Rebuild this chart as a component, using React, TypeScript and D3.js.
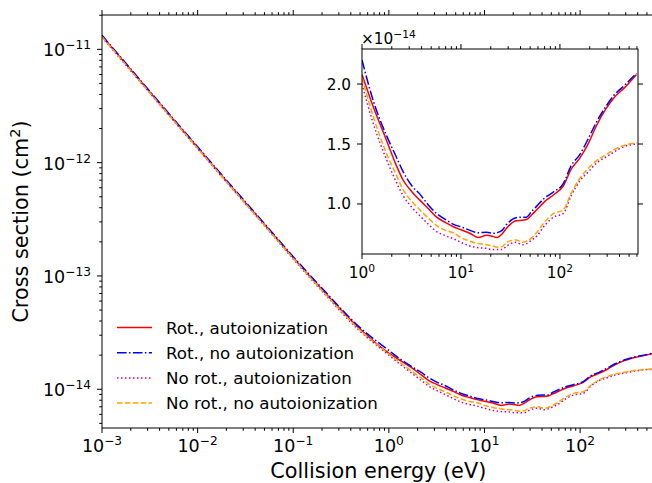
import React from "react";
import * as d3 from "d3";

// Collision energy (eV)
const energy = [0.001, 0.002, 0.005, 0.01, 0.02, 0.05, 0.1, 0.2, 0.5, 1.0, 1.3, 1.77, 2.2, 2.6, 3.2, 3.86, 4.7, 5.68, 7, 8.4, 10, 12.3, 15, 18.1, 21, 23, 26, 29, 36, 42, 46, 52, 58, 70, 86, 108, 130, 158, 195, 233, 290, 347, 450, 594];

// Cross sections in units of 1e-14 cm^2
const rotAuto = [1310, 660, 268, 136, 69, 28.5, 14.5, 7.6, 3.4, 2.08, 1.81, 1.53, 1.33, 1.2, 1.1, 1.03, 0.96, 0.89, 0.845, 0.81, 0.785, 0.756, 0.72, 0.74, 0.73, 0.72, 0.75, 0.8, 0.86, 0.865, 0.87, 0.91, 0.95, 1.02, 1.075, 1.15, 1.29, 1.38, 1.51, 1.65, 1.79, 1.88, 1.97, 2.08];
const rotNoAuto = [1330, 670, 272, 138, 70, 29, 14.8, 7.8, 3.5, 2.2, 1.86, 1.57, 1.4, 1.27, 1.15, 1.08, 0.99, 0.92, 0.87, 0.83, 0.81, 0.78, 0.76, 0.765, 0.755, 0.76, 0.78, 0.83, 0.885, 0.89, 0.89, 0.94, 0.98, 1.05, 1.1, 1.17, 1.32, 1.41, 1.55, 1.68, 1.81, 1.9, 1.99, 2.09];
const noRotAuto = [1280, 645, 262, 133, 67.5, 27.8, 14.1, 7.35, 3.25, 2.0, 1.67, 1.37, 1.19, 1.07, 0.97, 0.9, 0.83, 0.77, 0.735, 0.71, 0.68, 0.65, 0.635, 0.63, 0.62, 0.62, 0.62, 0.65, 0.68, 0.66, 0.67, 0.7, 0.73, 0.82, 0.89, 0.92, 1.07, 1.19, 1.27, 1.34, 1.39, 1.43, 1.48, 1.5];
const noRotNoAuto = [1290, 650, 264, 134, 68, 28, 14.3, 7.45, 3.32, 2.05, 1.73, 1.42, 1.25, 1.12, 1.02, 0.95, 0.88, 0.82, 0.78, 0.76, 0.72, 0.69, 0.67, 0.66, 0.65, 0.64, 0.645, 0.68, 0.7, 0.68, 0.69, 0.72, 0.76, 0.85, 0.92, 0.95, 1.09, 1.21, 1.3, 1.36, 1.41, 1.45, 1.49, 1.51];

const seriesNames = ["Rot., autoionization", "Rot., no autoionization", "No rot., autoionization", "No rot., no autoionization"];
const seriesValues = [rotAuto, rotNoAuto, noRotAuto, noRotNoAuto];
const seriesColors = ["#ff0000", "#0000ff", "#bf00bf", "#ffa500"];
const seriesDash = ["none", "9.6,2.4,1.5,2.4", "1.5,2.5", "5.5,2.4"];

const mainXTicks = [-3, -2, -1, 0, 1, 2];
const mainYTicks = [-11, -12, -13, -14];
const insetXTicks = [0, 1, 2];
const insetYTicks = [1.0, 1.5, 2.0];

const FONT = "DejaVu Sans";

export default function App() {
  const W = 652, H = 483;
  // main axes
  const mL = 102, mR = 654.5, mT = 15, mB = 428;
  const x = d3.scaleLog().domain([1e-3, 600]).range([mL, mR]);
  const y = d3.scaleLog().domain([4.55e-15, 2.01e-11]).range([mB, mT]);
  // inset
  const iL = 362, iR = 638, iT = 49, iB = 254;
  const xi = d3.scaleLog().domain([1, 615]).range([iL, iR]);
  const yi = d3.scaleLinear().domain([0.583, 2.292]).range([iB, iT]);

  const mainLine = (vals: number[]) =>
    d3.line<number>()
      .x((_, i) => x(energy[i]))
      .y((v) => y(v * 1e-14))
      .curve(d3.curveMonotoneX)(vals) || "";

  const insetLine = (vals: number[]) => {
    const pts = energy.map((e, i) => [e, vals[i]] as [number, number]).filter((p) => p[0] >= 1);
    return d3.line<[number, number]>()
      .x((p) => xi(p[0]))
      .y((p) => yi(p[1]))
      .curve(d3.curveMonotoneX)(pts) || "";
  };

  // minor ticks
  const mainXMinor: number[] = [];
  for (let k = -3; k <= 2; k++) for (let m = 2; m <= 9; m++) {
    const v = m * Math.pow(10, k);
    if (v <= 600) mainXMinor.push(v);
  }
  const mainYMinor: number[] = [];
  for (let k = -15; k <= -11; k++) for (let m = 2; m <= 9; m++) {
    const v = m * Math.pow(10, k);
    if (v >= 4.55e-15 && v <= 2.01e-11) mainYMinor.push(v);
  }
  const insetXMinor: number[] = [];
  for (let k = 0; k <= 2; k++) for (let m = 2; m <= 9; m++) {
    const v = m * Math.pow(10, k);
    if (v <= 615) insetXMinor.push(v);
  }

  const fs = 17.5, sup = 12.2;
  const ifs = 15.3, isup = 10.7;
  const sw = 1.5;

  return (
    <svg width={W} height={H} style={{ position: "absolute", left: 0, top: 0, background: "#fff" }} fontFamily={FONT}>
      <defs>
        <clipPath id="mainClip"><rect x={mL} y={mT} width={mR - mL} height={mB - mT} /></clipPath>
        <clipPath id="insetClip"><rect x={iL} y={iT} width={iR - iL} height={iB - iT} /></clipPath>
      </defs>
      <rect x={0} y={0} width={W} height={H} fill="#fff" />

      {/* main lines */}
      <g clipPath="url(#mainClip)">
        {seriesValues.map((vals, s) => (
          <path key={s} d={mainLine(vals)} fill="none" stroke={seriesColors[s]} strokeWidth={sw} strokeDasharray={seriesDash[s]} />
        ))}
      </g>

      {/* main spines */}
      <g stroke="#000" strokeWidth={1}>
        <line x1={mL} y1={mT} x2={mL} y2={mB} />
        <line x1={mL} y1={mB} x2={mR} y2={mB} />
        <line x1={mL} y1={mT} x2={mR} y2={mT} />
        <line x1={mR} y1={mT} x2={mR} y2={mB} />
        {mainXTicks.map((k) => {
          const px = x(Math.pow(10, k));
          return (
            <g key={"mx" + k}>
              <line x1={px} x2={px} y1={mB} y2={mB + 5} />
              <line x1={px} x2={px} y1={mT} y2={mT - 5} />
            </g>
          );
        })}
        {mainXMinor.map((v, i) => {
          const px = x(v);
          return (
            <g key={"mxm" + i}>
              <line x1={px} x2={px} y1={mB} y2={mB + 2.8} />
              <line x1={px} x2={px} y1={mT} y2={mT - 2.8} />
            </g>
          );
        })}
        {mainYTicks.map((k) => {
          const py = y(Math.pow(10, k));
          return <line key={"my" + k} x1={mL} x2={mL - 5} y1={py} y2={py} />;
        })}
        {mainYMinor.map((v, i) => {
          const py = y(v);
          return <line key={"mym" + i} x1={mL} x2={mL - 2.8} y1={py} y2={py} />;
        })}
      </g>

      {/* main tick labels */}
      {mainXTicks.map((k) => (
        <text key={"mxl" + k} x={x(Math.pow(10, k))} y={452} textAnchor="middle" fontSize={fs} fill="#000">
          <tspan>10</tspan>
          <tspan dy={-7} fontSize={sup}>{k < 0 ? "\u2212" + Math.abs(k) : String(k)}</tspan>
        </text>
      ))}
      {mainYTicks.map((k) => (
        <text key={"myl" + k} x={91} y={y(Math.pow(10, k)) + 7} textAnchor="end" fontSize={fs} fill="#000">
          <tspan>10</tspan>
          <tspan dy={-7} fontSize={sup}>{"\u2212" + Math.abs(k)}</tspan>
        </text>
      ))}

      {/* axis labels */}
      <text x={(mL + mR) / 2} y={478} textAnchor="middle" fontSize={20.8} fill="#000">Collision energy (eV)</text>
      <text transform={`translate(28,${(mT + mB) / 2}) rotate(-90)`} textAnchor="middle" fontSize={20.8} fill="#000">
        <tspan>Cross section (cm</tspan>
        <tspan dy={-8} fontSize={14.5}>2</tspan>
        <tspan dy={8}>)</tspan>
      </text>

      {/* legend */}
      {seriesNames.map((name, s) => {
        const ly = 327.5 + s * 25.2;
        return (
          <g key={"lg" + s}>
            <line x1={117} x2={152} y1={ly} y2={ly} stroke={seriesColors[s]} strokeWidth={sw} strokeDasharray={seriesDash[s]} />
            <text x={166} y={ly + 6} fontSize={16.7} fill="#000">{name}</text>
          </g>
        );
      })}

      {/* inset */}
      <rect x={iL} y={iT} width={iR - iL} height={iB - iT} fill="#fff" />
      <g clipPath="url(#insetClip)">
        {seriesValues.map((vals, s) => (
          <path key={"i" + s} d={insetLine(vals)} fill="none" stroke={seriesColors[s]} strokeWidth={sw} strokeDasharray={seriesDash[s]} />
        ))}
      </g>
      <g stroke="#000" strokeWidth={1}>
        <rect x={iL} y={iT} width={iR - iL} height={iB - iT} fill="none" />
        {insetXTicks.map((k) => {
          const px = xi(Math.pow(10, k));
          return (
            <g key={"ix" + k}>
              <line x1={px} x2={px} y1={iB} y2={iB + 5} />
              <line x1={px} x2={px} y1={iT} y2={iT - 5} />
            </g>
          );
        })}
        {insetXMinor.map((v, i) => {
          const px = xi(v);
          return (
            <g key={"ixm" + i}>
              <line x1={px} x2={px} y1={iB} y2={iB + 2.8} />
              <line x1={px} x2={px} y1={iT} y2={iT - 2.8} />
            </g>
          );
        })}
        {insetYTicks.map((v) => {
          const py = yi(v);
          return (
            <g key={"iy" + v}>
              <line x1={iL} x2={iL - 5} y1={py} y2={py} />
              <line x1={iR} x2={iR + 5} y1={py} y2={py} />
            </g>
          );
        })}
      </g>
      {insetXTicks.map((k) => (
        <text key={"ixl" + k} x={xi(Math.pow(10, k))} y={278} textAnchor="middle" fontSize={ifs} fill="#000">
          <tspan>10</tspan>
          <tspan dy={-6} fontSize={isup}>{String(k)}</tspan>
        </text>
      ))}
      {insetYTicks.map((v) => (
        <text key={"iyl" + v} x={351} y={yi(v) + 5.5} textAnchor="end" fontSize={ifs} fill="#000">{v.toFixed(1)}</text>
      ))}
      <text x={361} y={44} fontSize={ifs} fill="#000">
        <tspan>{"\u00d710"}</tspan>
        <tspan dy={-6} fontSize={isup}>{"\u221214"}</tspan>
      </text>
    </svg>
  );
}
